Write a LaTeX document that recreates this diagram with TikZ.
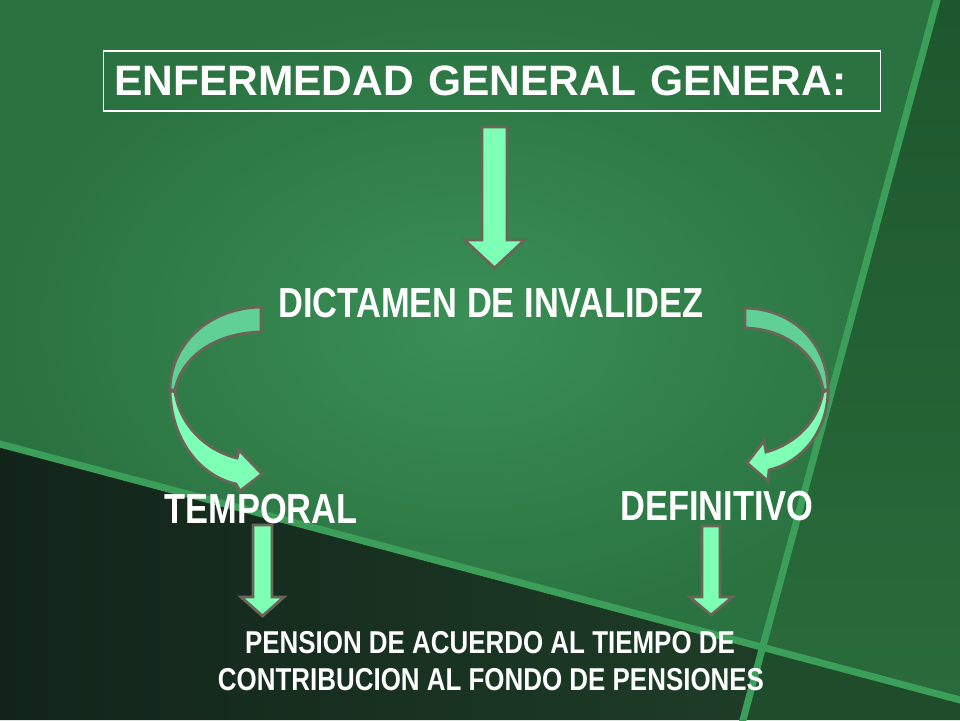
\documentclass[tikz,border=0pt]{standalone}
\usepackage{fontspec}
\setmainfont{Liberation Sans}
\newfontfamily\narrowfont{Liberation Sans Bold}[FakeStretch=0.82]
\usetikzlibrary{calc, positioning}
\usepackage{xcolor}
\definecolor{bgmain}{HTML}{2A7240}
\definecolor{bglight}{HTML}{3A8F56}
\definecolor{bgright}{HTML}{1D572D}
\definecolor{bgrightlow}{HTML}{2A6B3B}
\definecolor{bgdark}{HTML}{12241A}
\definecolor{bgdarkr}{HTML}{1E3D27}
\definecolor{bgcorner}{HTML}{1F4C2B}
\definecolor{band}{HTML}{3B9F5A}
\definecolor{mint}{HTML}{7DFFB5}
\definecolor{mintdark}{HTML}{60D096}
\definecolor{rim}{HTML}{6A6558}

% straight block arrow: top, tip, half shaft, half head, head length
\newcommand{\blockdown}[5]{%
  \draw[blockarrow] ($(#1)+(-#3,0)$) -- ($(#2)+(-#3,-#5)$) -- ($(#2)+(-#4,-#5)$) -- (#2)
    -- ($(#2)+(#4,-#5)$) -- ($(#2)+(#3,-#5)$) -- ($(#1)+(#3,0)$) -- cycle;}

\begin{document}
\begin{tikzpicture}[
    x=0.02cm, y=-0.02cm,
    titlebox/.style={draw=white, line width=0.6pt, text=white, font=\fontsize{24.2}{28}\selectfont\bfseries, text width=15.12cm, align=left, inner xsep=0.22cm, inner ysep=0pt, minimum height=1.2cm},
    bigtext/.style={text=white, font=\fontsize{23.9}{28}\narrowfont, inner sep=0pt},
    smalltext/.style={text=white, font=\fontsize{18}{21}\narrowfont, inner sep=0pt},
    blockarrow/.style={fill=mint, draw=rim, line width=1.6pt},
    backpart/.style={fill=mintdark, draw=rim, line width=1.6pt},
    bandline/.style={draw=band, line width=0.14cm}
]
\useasboundingbox (0,0) rectangle (960,720);

% background panels
\shade[inner color=bglight, outer color=bgmain] (0,0) -- (937,0) -- (762.6,647.4) -- (0,444) -- cycle;
\shade[top color=bgright, bottom color=bgrightlow] (937,0) -- (960,0) -- (960,700) -- (762.6,647.4) -- cycle;
\shade[left color=bgdark, right color=bgdarkr] (0,444) -- (762.6,647.4) -- (743,720) -- (0,720) -- cycle;
\fill[bgcorner] (762.6,647.4) -- (960,700) -- (960,720) -- (743,720) -- cycle;
\draw[bandline] (-20,438.7) -- (980,705.3);
\draw[bandline] (942.4,-20) -- (737.6,740);

\node[titlebox] (genera) at (492,81) {ENFERMEDAD GENERAL GENERA:};
\node[bigtext, anchor=base] (dictamen) at (491,317) {DICTAMEN DE INVALIDEZ};
\node[bigtext, anchor=base] (temporal) at (261,523) {TEMPORAL};
\node[bigtext, anchor=base] (definitivo) at (717,520) {DEFINITIVO};
\node[smalltext, anchor=base] (pension) at (490,653) {PENSION DE ACUERDO AL TIEMPO DE};
\node[smalltext, anchor=base] (fondo) at (491,690) {CONTRIBUCION AL FONDO DE PENSIONES};

\coordinate (g1) at (494.5,127);
\coordinate (g2) at (494.5,268);
\coordinate (t1) at (262.5,525);
\coordinate (t2) at (262.5,616);
\coordinate (d1) at (711,526);
\coordinate (d2) at (711,615);

\blockdown{g1}{g2}{12.5}{30}{28}
\blockdown{t1}{t2}{9.5}{21.5}{19}
\blockdown{d1}{d2}{9}{21.5}{18}

% curved arrow to temporal
\draw[backpart] (261,307) .. controls (208,308) and (170,345) .. (170,390)
  -- (175,390) .. controls (182,356) and (216,333) .. (261,332) -- cycle;
\draw[blockarrow] (170,390) .. controls (171,440) and (200,476) .. (236,484)
  -- (240,491) -- (262,474) -- (239,450) -- (237,458)
  .. controls (205,450) and (180,425) .. (175,392) -- cycle;

% curved arrow to definitivo
\draw[backpart] (745,308) .. controls (795,309) and (828,345) .. (828,390)
  -- (823,390) .. controls (818,356) and (788,329) .. (745,328) -- cycle;
\draw[blockarrow] (828,390) .. controls (828,430) and (803,462) .. (769,470)
  -- (768,481) -- (747,463) -- (764,441) -- (766,452)
  .. controls (795,444) and (818,422) .. (823,392) -- cycle;

\end{tikzpicture}
\end{document}
